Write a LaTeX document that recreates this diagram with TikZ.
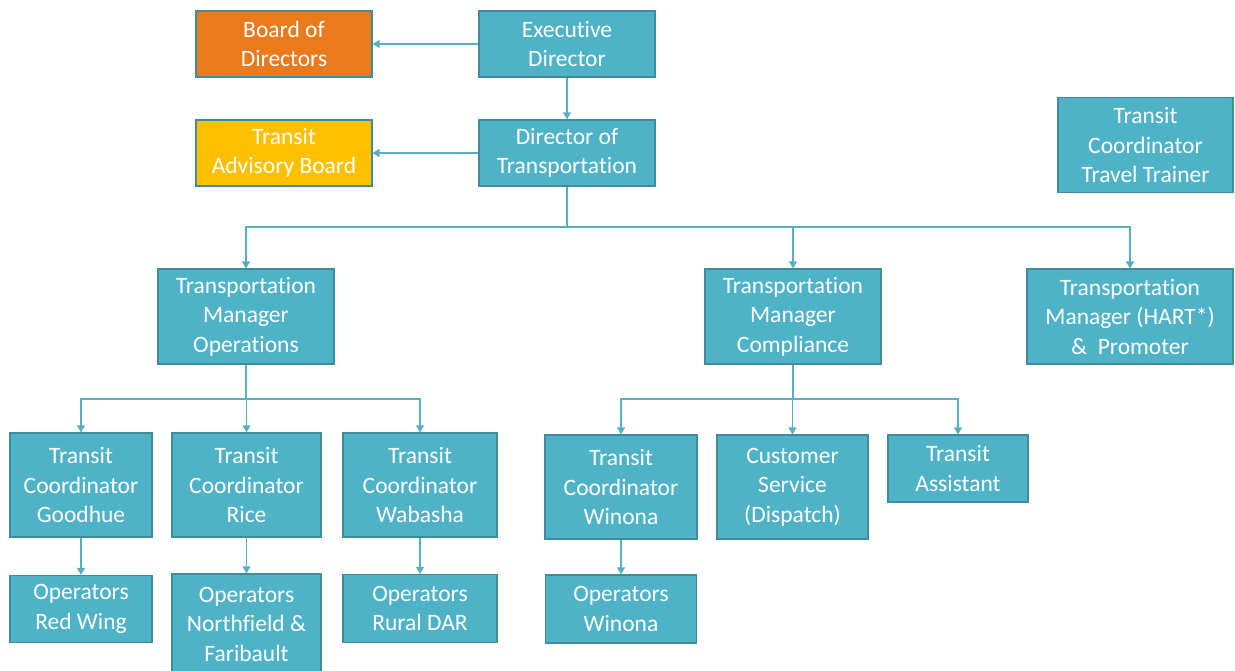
\documentclass[tikz,border=0pt]{standalone}
\usepackage{fontspec}
\setmainfont{Carlito}[Ligatures=NoCommon]
\usetikzlibrary{arrows.meta}
\definecolor{boxfill}{HTML}{4FB3C8}
\definecolor{boxline}{HTML}{3F8C9C}
\definecolor{conn}{HTML}{58AFC2}
\definecolor{orangefill}{HTML}{EA7A1C}
\definecolor{yellowfill}{HTML}{FFC000}
\begin{document}
\begin{tikzpicture}[x=1pt,y=-1pt,
  box/.style={draw=boxline, line width=1.2pt, fill=boxfill, text=white, align=center,
    inner sep=0pt, font=\fontsize{23.5}{29.5}\selectfont},
  link/.style={draw=conn, line width=1.3pt, -{Triangle[length=7pt,width=8pt]}},
  plain/.style={draw=conn, line width=1.3pt}]
\useasboundingbox (0,0) rectangle (1235,670);
\node[box, fill=orangefill, minimum width=176pt, minimum height=66pt] (bod) at (284,44) {Board of\\Directors};
\node[box, minimum width=176pt, minimum height=66pt] (ed) at (567,44) {Executive\\Director};
\node[box, fill=yellowfill, minimum width=176pt, minimum height=66pt] (tab) at (284,153) {Transit\\Advisory Board};
\node[box, minimum width=176pt, minimum height=66pt] (dot) at (567,153) {Director of\\Transportation};
\node[box, minimum width=175pt, minimum height=95pt] (tt) at (1145.5,145) {Transit\\Coordinator\\Travel Trainer};
\node[box, minimum width=176pt, minimum height=95pt] (tmo) at (246,316.5) {Transportation\\Manager\\Operations};
\node[box, minimum width=176pt, minimum height=95pt] (tmc) at (793,316.5) {Transportation\\Manager\\Compliance};
\node[box, minimum width=206pt, minimum height=95pt] (tmh) at (1130,316.5) {Transportation\\Manager (HART*)\\\&\ \ Promoter};
\node[box, minimum width=142pt, minimum height=104pt] (gh) at (81,485) {Transit\\Coordinator\\Goodhue};
\node[box, minimum width=149pt, minimum height=104pt] (rice) at (246.5,485) {Transit\\Coordinator\\Rice};
\node[box, minimum width=154pt, minimum height=104pt] (wab) at (420,485) {Transit\\Coordinator\\Wabasha};
\node[box, minimum width=152pt, minimum height=104pt] (win) at (621,487) {Transit\\Coordinator\\Winona};
\node[box, minimum width=151pt, minimum height=104pt] (cs) at (792.5,487) {Customer\\Service\\(Dispatch)};
\node[box, minimum width=140pt, minimum height=67pt] (ta) at (958,468.5) {Transit\\Assistant};
\node[box, minimum width=142pt, minimum height=67pt] (rw) at (81,609) {Operators\\Red Wing};
\node[box, minimum width=149pt, minimum height=100pt] (nf) at (246.5,624) {Operators\\Northfield \&\\Faribault};
\node[box, minimum width=154pt, minimum height=68pt] (dar) at (420,608.5) {Operators\\Rural DAR};
\node[box, minimum width=151pt, minimum height=68pt] (ow) at (621,609) {Operators\\Winona};
% top connectors
\draw[link] (ed.west) -- (bod.east);
\draw[link] (ed.south) -- (dot.north);
\draw[link] (dot.west) -- (tab.east);
% director to managers
\coordinate (j1) at (567,227);
\draw[plain] (dot.south) -- (j1);
\draw[link] (j1) -| (tmo.north);
\draw[link] (j1) -| (tmh.north);
\draw[link] (tmc.north |- j1) -- (tmc.north);
% operations
\coordinate (j2) at (246,399);
\draw[plain] (tmo.south) -- (j2);
\draw[link] (j2) -| (gh.north);
\draw[link] (j2) -| (wab.north);
\draw[link] (rice.north |- j2) -- (rice.north);
% compliance
\coordinate (j3) at (793,399);
\draw[plain] (tmc.south) -- (j3);
\draw[link] (j3) -| (win.north);
\draw[link] (j3) -| (ta.north);
\draw[link] (cs.north |- j3) -- (cs.north);
% coordinators to operators
\draw[link] (gh.south) -- (rw.north);
\draw[link] (rice.south) -- (nf.north);
\draw[link] (wab.south) -- (dar.north);
\draw[link] (win.south) -- (ow.north);
\end{tikzpicture}
\end{document}
